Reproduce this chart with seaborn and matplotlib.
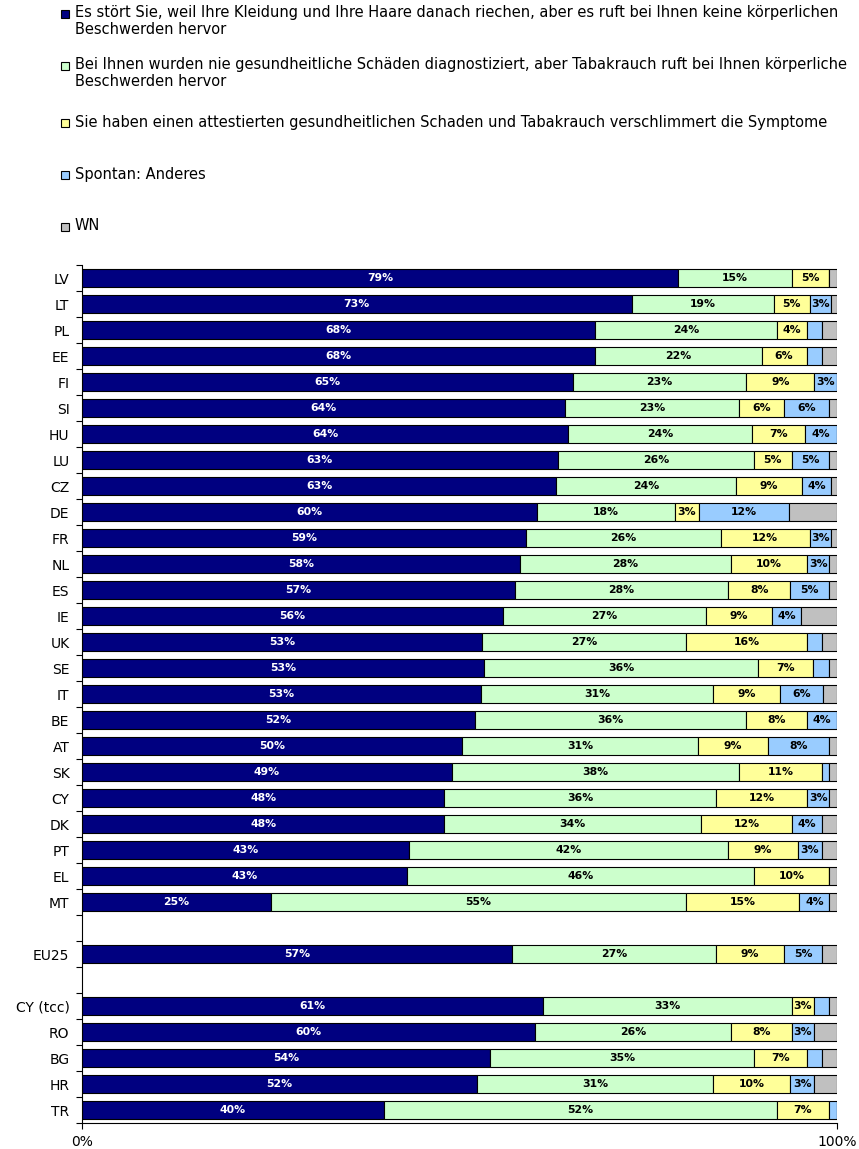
import numpy as np
import pandas as pd
import matplotlib
matplotlib.use('Agg')
import matplotlib.pyplot as plt
from matplotlib.patches import Rectangle
import seaborn as sns

# rows of the chart, top to bottom (blank strings are the spacer rows)
countries = ['LV', 'LT', 'PL', 'EE', 'FI', 'SI', 'HU', 'LU', 'CZ', 'DE',
             'FR', 'NL', 'ES', 'IE', 'UK', 'SE', 'IT', 'BE', 'AT', 'SK',
             'CY', 'DK', 'PT', 'EL', 'MT', 'EU25', 'CY (tcc)', 'RO', 'BG',
             'HR', 'TR']
row_order = countries[:25] + [' ', 'EU25', '  '] + countries[26:]

smell_only = [79, 72.8, 68, 68, 65, 64, 64.4, 63, 62.8, 60.3,
              58.8, 58, 57.3, 55.8, 53, 53.3, 52.8, 52, 50.3, 49,
              48, 48, 43.3, 43, 25, 57, 61, 60, 54, 52.3, 40]
complaints = [15, 18.8, 24, 22, 23, 23, 24.4, 26, 23.8, 18.2,
              25.8, 28, 28.3, 26.8, 27, 36.3, 30.8, 36, 31.3, 38,
              36, 34, 42.3, 46, 55, 27, 33, 26, 35, 31.3, 52]
worse_symptoms = [5, 4.8, 4, 6, 9, 6, 7, 5, 8.8, 3.2,
                  11.8, 10, 8.2, 8.8, 16, 7.2, 8.8, 8, 9.2, 11,
                  12, 12, 9.2, 10, 15, 9, 3, 8, 7, 10.2, 7]
other = [0, 2.8, 2, 2, 3, 6, 4.2, 5, 3.8, 12,
         2.8, 3, 5.2, 3.8, 2, 2.2, 5.8, 4, 8.2, 1,
         3, 4, 3.2, 0, 4, 5, 2, 3, 2, 3.2, 1]
dont_know = [1, 0.8, 2, 2, 0, 1, 0, 1, 0.8, 6.3,
             0.8, 1, 1, 4.8, 2, 1, 1.8, 0, 1, 1,
             1, 2, 2, 1, 1, 2, 1, 3, 2, 3, 0]

legend_labels = [
    'Es stört Sie, weil Ihre Kleidung und Ihre Haare danach riechen, aber es ruft bei Ihnen keine körperlichen\nBeschwerden hervor',
    'Bei Ihnen wurden nie gesundheitliche Schäden diagnostiziert, aber Tabakrauch ruft bei Ihnen körperliche\nBeschwerden hervor',
    'Sie haben einen attestierten gesundheitlichen Schaden und Tabakrauch verschlimmert die Symptome',
    'Spontan: Anderes',
    'WN',
]
colors = ['#000080', '#CCFFCC', '#FFFF99', '#99CCFF', '#C0C0C0']
text_colors = ['white', 'black', 'black', 'black', None]  # WN is never labelled

df = pd.DataFrame({'land': countries, 'smell': smell_only, 'complaints': complaints,
                   'worse': worse_symptoms, 'other': other, 'wn': dont_know})
series = ['smell', 'complaints', 'worse', 'other', 'wn']

sns.set_style('white')
plt.rcParams['font.family'] = ['DejaVu Sans']
plt.rcParams['text.color'] = 'black'
plt.rcParams['xtick.color'] = 'black'
plt.rcParams['ytick.color'] = 'black'

W, H = 859, 1149
fig = plt.figure(figsize=(W / 100, H / 100), dpi=100)
ax = fig.add_axes([82 / W, 1 - 1123 / H, 755 / W, (1123 - 265) / H])

left = np.zeros(len(df))
for col, color, tcol in zip(series, colors, text_colors):
    vals = df[col].to_numpy(float)
    sns.barplot(data=df, x=col, y='land', order=row_order, color=color,
                saturation=1, left=left, width=0.7, edgecolor='black',
                linewidth=0.8, errorbar=None, ax=ax)
    if tcol is not None:
        labels = [f'{v:.0f}%' if v >= 2.5 else '' for v in vals]
        ax.bar_label(ax.containers[-1], labels=labels, label_type='center',
                     color=tcol, fontsize=7.8, fontweight='bold')
    left = left + vals

ax.set_xlim(0, 100)
ax.set_ylim(len(row_order) - 0.5, -0.5)
ax.set_xlabel('')
ax.set_ylabel('')
ax.set_yticks(range(len(row_order)), labels=row_order)
ax.set_yticks(np.arange(-0.5, len(row_order), 1), minor=True)
ax.tick_params(axis='y', which='major', length=0, pad=9, labelsize=10, labelcolor='black')
ax.tick_params(axis='y', which='minor', length=4, width=0.8, direction='out', left=True)
ax.set_xticks([0, 100], labels=['0%', '100%'])
ax.tick_params(axis='x', length=4, width=0.8, direction='out', bottom=True,
               labelsize=10, pad=5, labelcolor='black')
for s in ['top', 'right']:
    ax.spines[s].set_visible(False)
for s in ['left', 'bottom']:
    ax.spines[s].set_color('black')
    ax.spines[s].set_linewidth(0.8)

# legend block at the top
first_line_y = [14, 66, 123, 175, 227]
for label, color, y in zip(legend_labels, colors, first_line_y):
    fig.add_artist(Rectangle((61 / W, 1 - (y + 4) / H), 8 / W, 8 / H,
                             transform=fig.transFigure, facecolor=color,
                             edgecolor='black', linewidth=0.8))
    fig.text(75 / W, 1 - (y - 8.5) / H, label, fontsize=10.5, va='top', ha='left',
             linespacing=1.15, color='black')

fig.savefig('out.png', dpi=100)
